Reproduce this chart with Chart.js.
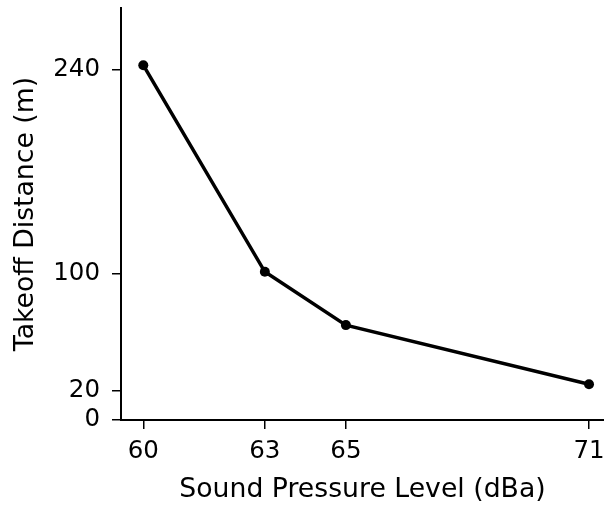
<!DOCTYPE html>
<html>
<head>
<meta charset="utf-8">
<script src="https://cdn.jsdelivr.net/npm/chart.js@4/dist/chart.umd.min.js"></script>
<style>
html,body{margin:0;padding:0;background:#fff;}
#wrap{width:604px;height:506px;position:relative;}
</style>
</head>
<body>
<div id="wrap"><canvas id="c" width="604" height="506"></canvas></div>
<script>
const soundLevels = [60, 63, 65, 71];
const takeoffDistances = [243, 101.5, 65, 24.5];
const xTickValues = [60, 63, 65, 71];
const yTickValues = [0, 20, 100, 240];
const xTitle = 'Sound Pressure Level (dBa)';
const yTitle = 'Takeoff Distance (m)';

const FONT = "'DejaVu Sans', sans-serif";

new Chart(document.getElementById('c'), {
  type: 'line',
  data: {
    datasets: [{
      data: soundLevels.map((x, i) => ({x: x, y: takeoffDistances[i]})),
      borderColor: '#000',
      backgroundColor: '#000',
      borderWidth: 3.5,
      pointRadius: 5,
      pointHoverRadius: 5,
      pointBackgroundColor: '#000',
      pointBorderWidth: 0,
      tension: 0,
      fill: false
    }]
  },
  options: {
    responsive: false,
    animation: false,
    events: [],
    layout: {autoPadding: false, padding: {top: 8, right: 0, left: 0, bottom: 0}},
    plugins: {legend: {display: false}, tooltip: {enabled: false}},
    scales: {
      x: {
        type: 'linear',
        min: 59.45,
        max: 71.37,
        afterBuildTicks: s => { s.ticks = xTickValues.map(v => ({value: v})); },
        afterFit: s => { s.height = 86; s.paddingLeft = 0; s.paddingRight = 0; },
        ticks: {color: '#000', font: {family: FONT, size: 24.5}, padding: 8, maxRotation: 0, autoSkip: false},
        grid: {drawOnChartArea: false, drawTicks: true, tickLength: 9, color: '#000', lineWidth: 1.5},
        border: {display: true, color: '#000', width: 2},
        title: {display: true, text: xTitle, color: '#000', font: {family: FONT, size: 26.7}, padding: {top: 0, bottom: 0}}
      },
      y: {
        type: 'linear',
        min: 0,
        max: 282.2,
        afterBuildTicks: s => { s.ticks = yTickValues.map(v => ({value: v})); },
        afterFit: s => { s.width = 121; s.paddingTop = 0; s.paddingBottom = 0; },
        ticks: {color: '#000', font: {family: FONT, size: 24.5}, padding: 12, autoSkip: false},
        grid: {drawOnChartArea: false, drawTicks: true, tickLength: 9, color: '#000', lineWidth: 1.5},
        border: {display: true, color: '#000', width: 2},
        title: {display: true, text: yTitle, color: '#000', font: {family: FONT, size: 26.7}, padding: {top: 10, bottom: 0}}
      }
    }
  }
});
</script>
</body>
</html>
